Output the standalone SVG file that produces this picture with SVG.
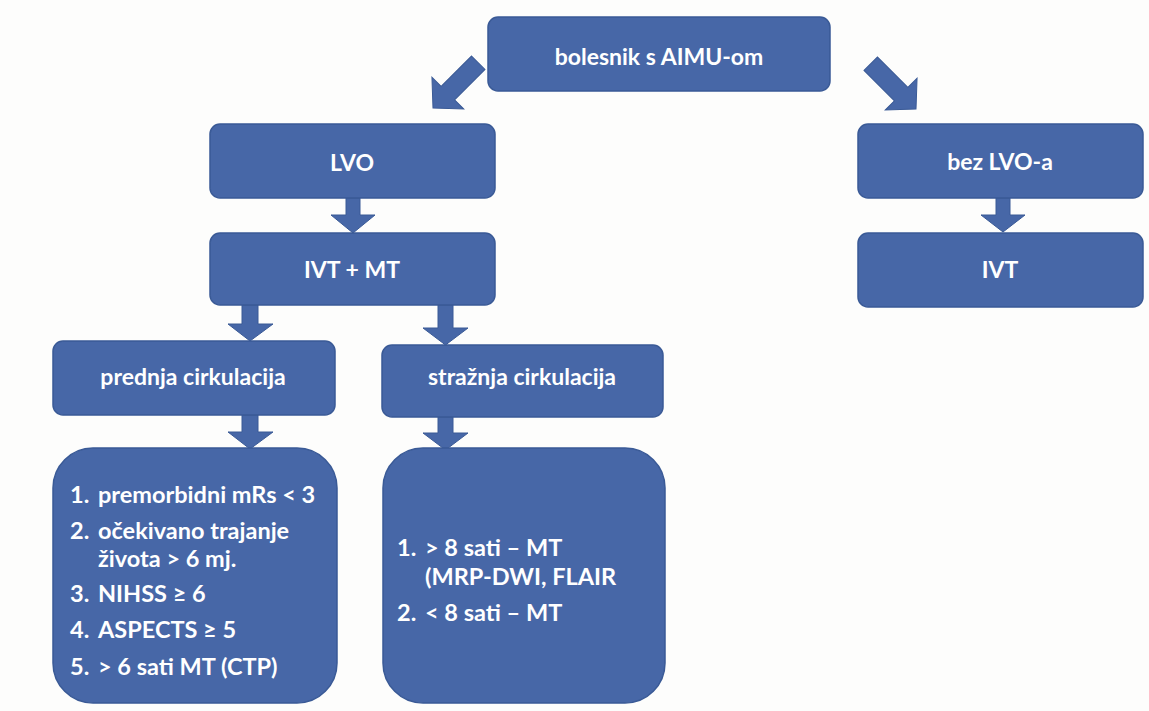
<svg xmlns="http://www.w3.org/2000/svg" width="1149" height="711" viewBox="0 0 1149 711">
<defs>
<style>
.box{fill:#4767a7;stroke:#3a5a96;stroke-width:1.5}
.arr{fill:#4767a7;stroke:#3a5a96;stroke-width:1}
.t{font-family:Lato,"Open Sans","Liberation Sans",sans-serif;font-weight:bold;font-size:23px;fill:#ffffff}
.l{font-size:23.5px}
.c{text-anchor:middle}
</style>
</defs>
<rect width="1149" height="711" fill="#fdfdfc"/>
<g id="connectors">
<polygon class="arr" transform="translate(433,108) rotate(45)" points="-9.5,-64 9.5,-64 9.5,-21 22.5,-21 0,0 -22.5,-21 -9.5,-21"/>
<polygon class="arr" transform="translate(916,109) rotate(-45)" points="-9.5,-64 9.5,-64 9.5,-21 22.5,-21 0,0 -22.5,-21 -9.5,-21"/>
<polygon class="arr" points="346,198 360,198 360,215 375,215 353,233 331,215 346,215"/>
<polygon class="arr" points="996,198 1010,198 1010,215 1025,215 1003,232 981,215 996,215"/>
<polygon class="arr" points="242,305 258,305 258,324 273,324 250,341 228,324 242,324"/>
<polygon class="arr" points="242,415 258,415 258,432 273,432 250,449 228,432 242,432"/>
<polygon class="arr" points="438,305 453,305 453,328 468,328 445.5,345 423,328 438,328"/>
<polygon class="arr" points="438,417 453,417 453,433 468,433 445.5,450 423,433 438,433"/>
</g>
<g id="n-top">
<rect class="box" x="488" y="17" width="342" height="74" rx="10"/>
<text class="t c" x="659" y="65">bolesnik s AIMU-om</text>
</g>
<g id="n-lvo">
<rect class="box" x="210" y="124" width="285" height="74" rx="10"/>
<text class="t c" x="352" y="171">LVO</text>
</g>
<g id="n-ivtmt">
<rect class="box" x="210" y="233" width="285" height="72" rx="10"/>
<text class="t c" x="352" y="278">IVT + MT</text>
</g>
<g id="n-bezlvo">
<rect class="box" x="858" y="124" width="285" height="74" rx="10"/>
<text class="t c" x="1000" y="170">bez LVO-a</text>
</g>
<g id="n-ivt">
<rect class="box" x="858" y="233" width="285" height="74" rx="10"/>
<text class="t c" x="1000" y="278">IVT</text>
</g>
<g id="n-prednja">
<rect class="box" x="53" y="341" width="282" height="74" rx="10"/>
<text class="t c" x="193" y="385">prednja cirkulacija</text>
</g>
<g id="n-straznja">
<rect class="box" x="382" y="345" width="281" height="72" rx="10"/>
<text class="t c" x="522" y="385">stražnja cirkulacija</text>
</g>
<g id="n-prednja-list">
<rect class="box" x="53" y="448" width="284" height="255" rx="40"/>
<text class="t l" x="70" y="503">1.</text><text class="t l" x="98" y="503">premorbidni mRs &lt; 3</text>
<text class="t l" x="70" y="539">2.</text><text class="t l" x="98" y="539">očekivano trajanje</text>
<text class="t l" x="98" y="567">života &gt; 6 mj.</text>
<text class="t l" x="70" y="602">3.</text><text class="t l" x="98" y="602">NIHSS ≥ 6</text>
<text class="t l" x="70" y="638">4.</text><text class="t l" x="98" y="638">ASPECTS ≥ 5</text>
<text class="t l" x="70" y="675">5.</text><text class="t l" x="98" y="675">&gt; 6 sati MT (CTP)</text>
</g>
<g id="n-straznja-list">
<rect class="box" x="383" y="448" width="282" height="255" rx="40"/>
<text class="t l" x="397" y="556">1.</text><text class="t l" x="425" y="556">&gt; 8 sati – MT</text>
<text class="t l" x="425" y="585">(MRP-DWI, FLAIR</text>
<text class="t l" x="397" y="621">2.</text><text class="t l" x="425" y="621">&lt; 8 sati – MT</text>
</g>
</svg>
